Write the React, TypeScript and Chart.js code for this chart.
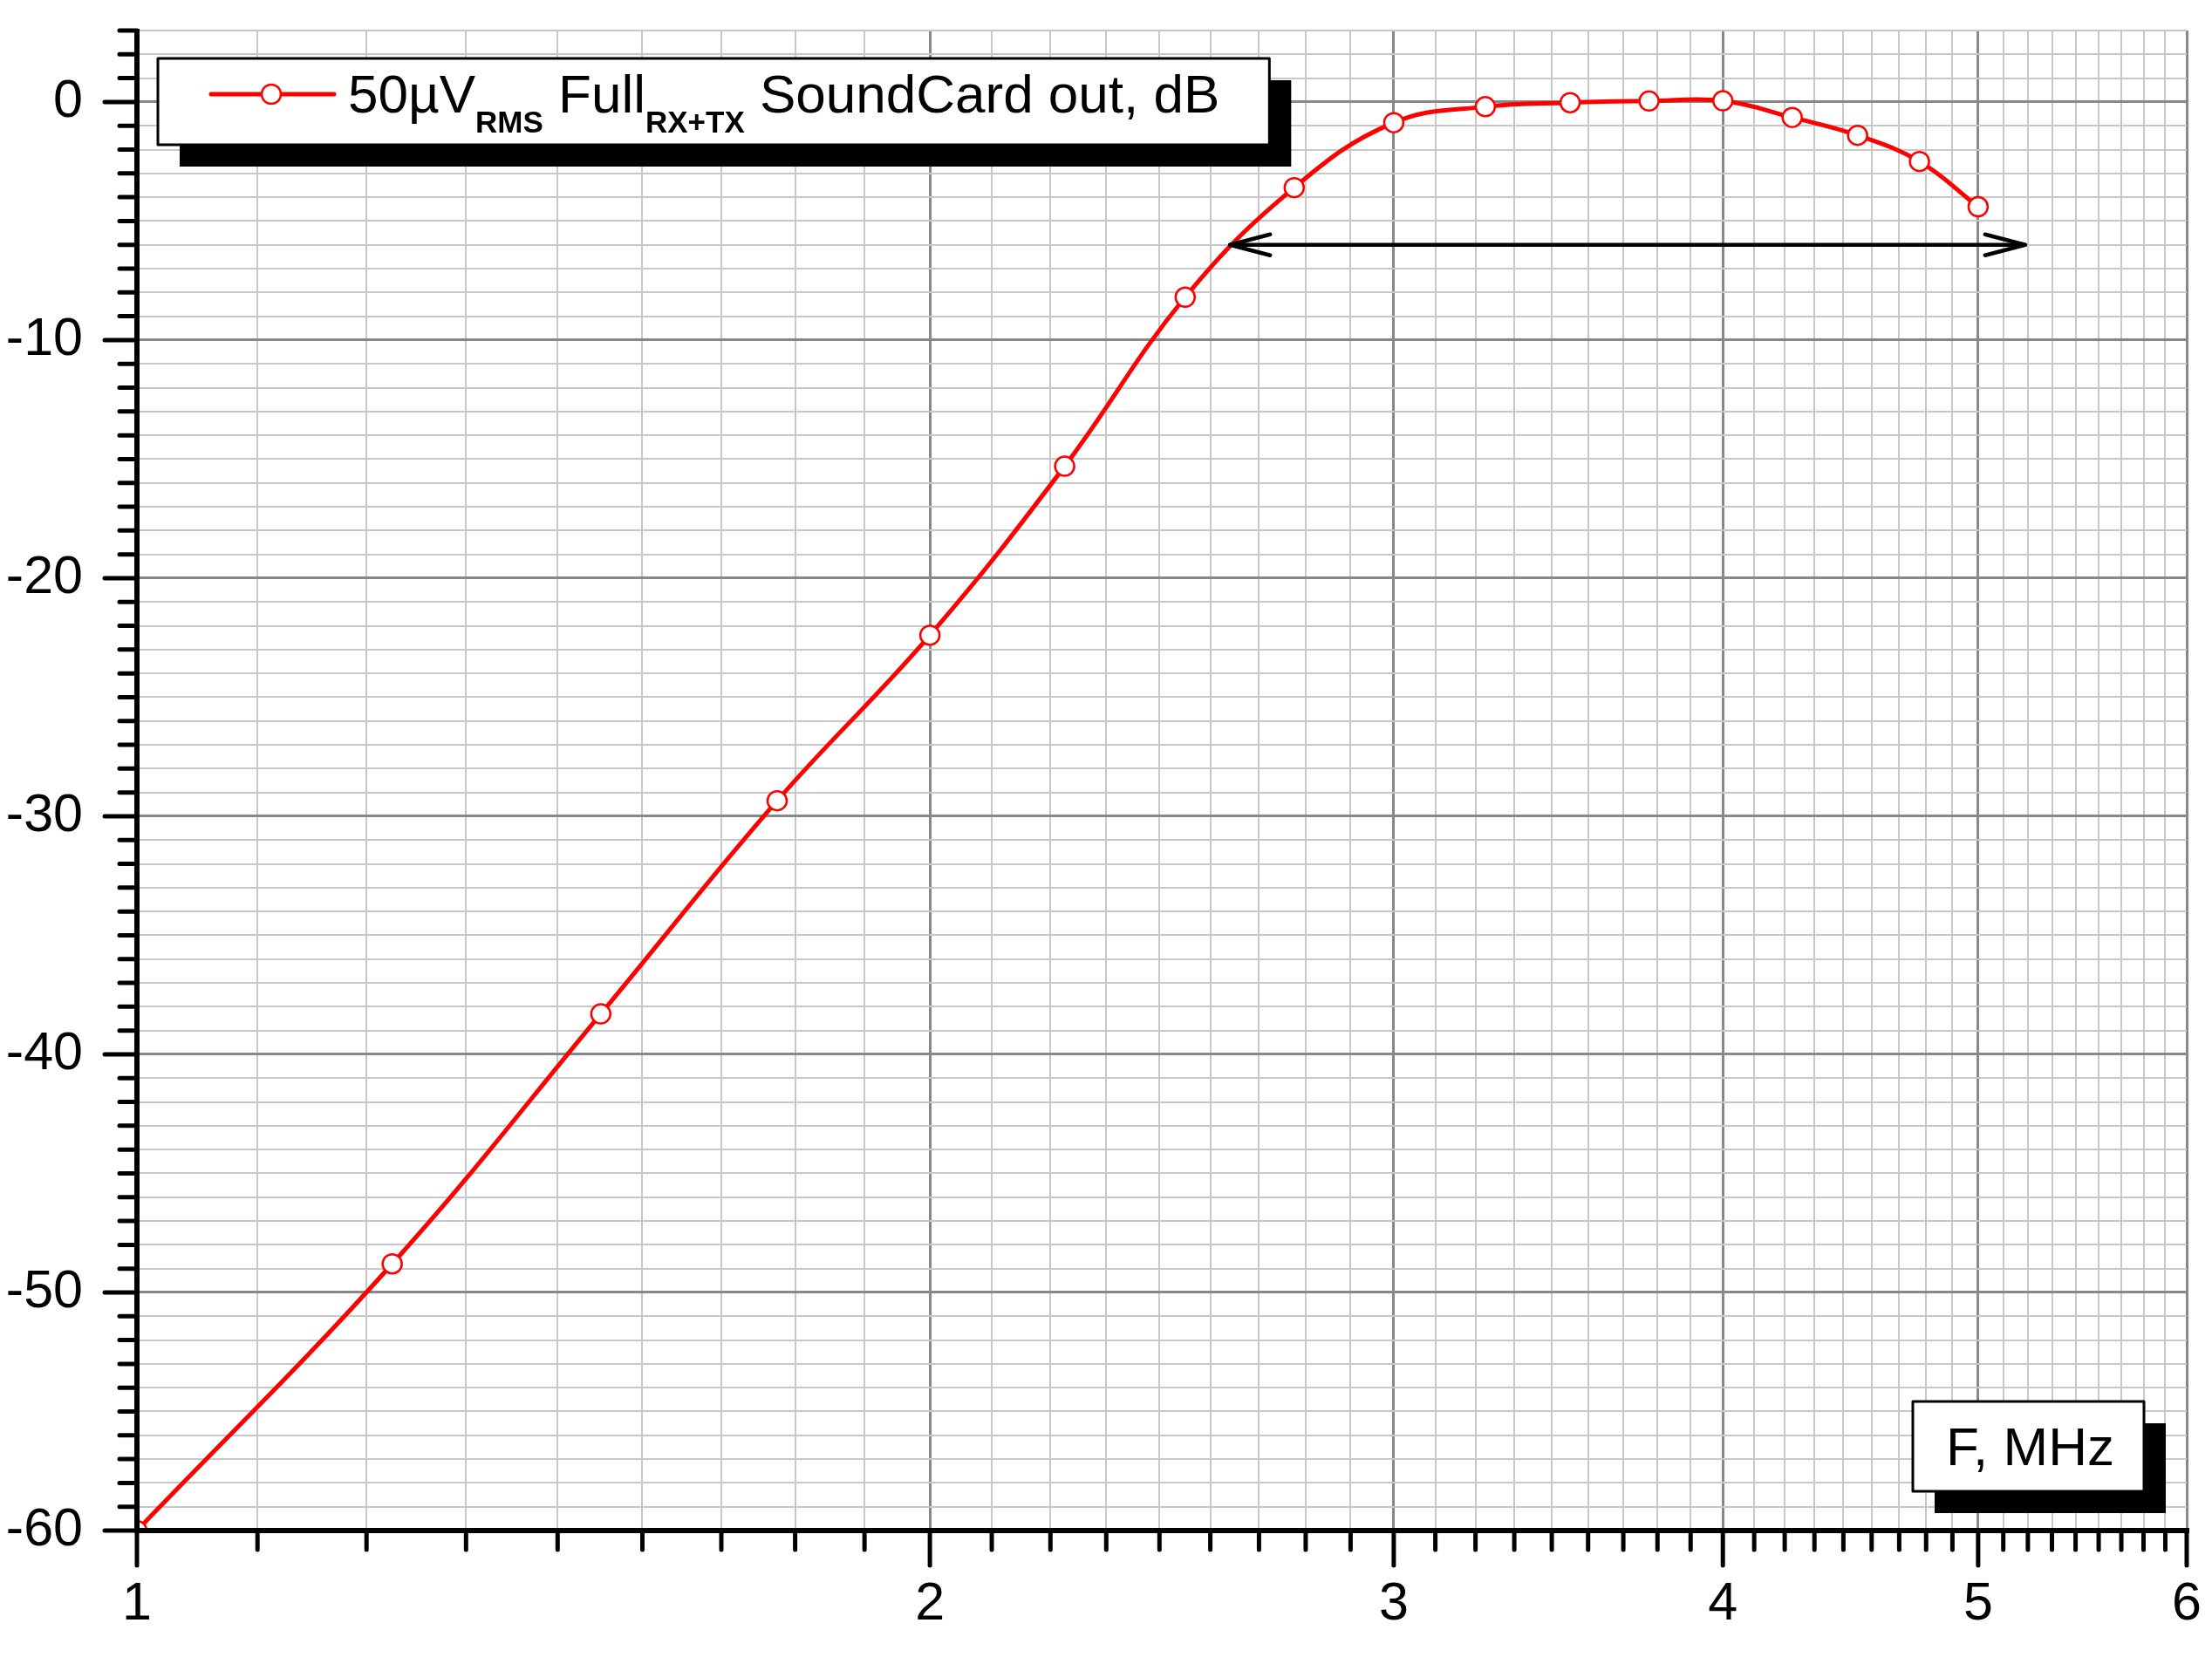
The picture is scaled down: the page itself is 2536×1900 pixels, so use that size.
import React, { useEffect, useRef } from 'react';
import { Chart, registerables } from 'chart.js';

Chart.register(...registerables);

// ---- data ----
const frequencyMHz = [1, 1.25, 1.5, 1.75, 2, 2.25, 2.5, 2.75, 3, 3.25, 3.5, 3.75, 4, 4.25, 4.5, 4.75, 5];
const levelDb = [-60, -48.8, -38.3, -29.35, -22.4, -15.3, -8.2, -3.6, -0.87, -0.2, -0.03, 0.04, 0.05, -0.65, -1.4, -2.5, -4.4];

const xMajorTicks = [1, 2, 3, 4, 5, 6];
const xMinorSubdivisions = 9;
const yMajorTicks = [0, -10, -20, -30, -40, -50, -60];
const yMin = -60;
const yMax = 3;

const bandArrowFrom = 2.6;
const bandArrowTo = 5.21;
const bandArrowLevel = -6;

const legendParts = [
  { text: '50µV', sub: false },
  { text: 'RMS', sub: true },
  { text: ' Full', sub: false },
  { text: 'RX+TX', sub: true },
  { text: ' SoundCard out, dB', sub: false },
];
const axisTitle = 'F, MHz';

// ---- derived tick lists ----
const xTickValues: number[] = [];
for (let i = 0; i < xMajorTicks.length - 1; i++) {
  const a = xMajorTicks[i];
  const b = xMajorTicks[i + 1];
  for (let k = 0; k < xMinorSubdivisions; k++) {
    xTickValues.push(Math.round((a + ((b - a) * k) / xMinorSubdivisions) * 1e9) / 1e9);
  }
}
xTickValues.push(xMajorTicks[xMajorTicks.length - 1]);

const yTickValues: number[] = [];
for (let v = yMin; v <= yMax; v++) yTickValues.push(v);

const FONT = "'Liberation Sans', Arial, sans-serif";
const RED = '#ff0000';
const MINOR_GRID = '#c8c8c8';
const MAJOR_GRID = '#888888';

const decorPlugin = {
  id: 'decor',
  afterDraw(chart: any) {
    const { ctx, chartArea: a, scales } = chart;
    const xs = scales.x;
    const ys = scales.y;
    const line = (x1: number, y1: number, x2: number, y2: number) => {
      ctx.beginPath();
      ctx.moveTo(x1, y1);
      ctx.lineTo(x2, y2);
      ctx.stroke();
    };
    ctx.save();

    // band arrow
    const ay = ys.getPixelForValue(bandArrowLevel);
    const ax1 = xs.getPixelForValue(bandArrowFrom);
    const ax2 = xs.getPixelForValue(bandArrowTo);
    ctx.strokeStyle = '#000';
    ctx.lineWidth = 4.5;
    ctx.lineCap = 'round';
    ctx.lineJoin = 'round';
    line(ax1, ay, ax2, ay);
    ctx.beginPath();
    ctx.moveTo(ax1 + 46, ay - 12);
    ctx.lineTo(ax1, ay);
    ctx.lineTo(ax1 + 46, ay + 12);
    ctx.stroke();
    ctx.beginPath();
    ctx.moveTo(ax2 - 46, ay - 12);
    ctx.lineTo(ax2, ay);
    ctx.lineTo(ax2 - 46, ay + 12);
    ctx.stroke();

    // tick marks
    ctx.lineWidth = 5;
    ctx.lineCap = 'round';
    for (const t of ys.ticks) {
      const py = ys.getPixelForValue(t.value);
      const len = yMajorTicks.includes(t.value) ? 37 : 20;
      line(a.left - len, py, a.left, py);
    }
    for (const t of xs.ticks) {
      const px = xs.getPixelForValue(t.value);
      const len = xMajorTicks.includes(t.value) ? 40 : 22;
      line(px, a.bottom, px, a.bottom + len);
    }
    // axis lines
    ctx.lineWidth = 6;
    ctx.lineCap = 'butt';
    line(a.left, a.top - 2, a.left, a.bottom + 3);
    line(a.left - 3, a.bottom, a.right + 3, a.bottom);

    // legend box
    const mainFont = `62px ${FONT}`;
    const subFont = `bold 35px ${FONT}`;
    const bx = a.left + 24;
    const by = a.top + 32;
    const bh = 99;
    const textX = bx + 218;
    let tw = 0;
    for (const p of legendParts) {
      ctx.font = p.sub ? subFont : mainFont;
      tw += ctx.measureText(p.text).width;
    }
    const bw = textX + tw + 57 - bx;
    ctx.fillStyle = '#000';
    ctx.fillRect(bx + 25, by + 25, bw, bh);
    ctx.fillStyle = '#fff';
    ctx.fillRect(bx, by, bw, bh);
    ctx.strokeStyle = '#000';
    ctx.lineWidth = 3;
    ctx.strokeRect(bx, by, bw, bh);
    // legend symbol
    const ly = by + 41;
    ctx.strokeStyle = RED;
    ctx.lineWidth = 5;
    ctx.lineCap = 'round';
    line(bx + 61, ly, bx + 202, ly);
    ctx.beginPath();
    ctx.arc(bx + 130, ly, 11, 0, Math.PI * 2);
    ctx.fillStyle = '#fff';
    ctx.fill();
    ctx.lineWidth = 2.5;
    ctx.stroke();
    // legend text
    ctx.fillStyle = '#000';
    ctx.textBaseline = 'alphabetic';
    ctx.textAlign = 'left';
    let tx = textX;
    const baseline = by + 62;
    for (const p of legendParts) {
      ctx.font = p.sub ? subFont : mainFont;
      ctx.fillText(p.text, tx, p.sub ? baseline + 23 : baseline);
      tx += ctx.measureText(p.text).width;
    }

    // axis title box
    const fw = 265;
    const fh = 103;
    const fx = a.right - 49 - fw;
    const fy = a.bottom - 45 - fh;
    ctx.fillStyle = '#000';
    ctx.fillRect(fx + 25, fy + 25, fw, fh);
    ctx.fillStyle = '#fff';
    ctx.fillRect(fx, fy, fw, fh);
    ctx.strokeStyle = '#000';
    ctx.lineWidth = 3;
    ctx.strokeRect(fx, fy, fw, fh);
    ctx.fillStyle = '#000';
    ctx.font = mainFont;
    ctx.textAlign = 'center';
    ctx.fillText(axisTitle, fx + fw / 2 + 2, fy + fh - 30);

    ctx.restore();
  },
};

const zeroPadding = (s: any) => {
  s.paddingLeft = 0;
  s.paddingRight = 0;
  s.paddingTop = 0;
  s.paddingBottom = 0;
};

export default function App() {
  const ref = useRef<HTMLCanvasElement | null>(null);

  useEffect(() => {
    document.body.style.margin = '0';
    const canvas = ref.current;
    if (!canvas) return;
    const tickFont = { family: FONT, size: 61, lineHeight: 1 };
    const chart = new Chart(canvas, {
      type: 'line',
      data: {
        datasets: [
          {
            label: 'level',
            data: frequencyMHz.map((f, i) => ({ x: f, y: levelDb[i] })),
            borderColor: RED,
            borderWidth: 5,
            tension: 0.4,
            pointRadius: 11,
            pointBorderWidth: 2.5,
            pointBackgroundColor: '#ffffff',
            pointBorderColor: RED,
            fill: false,
          },
        ],
      },
      options: {
        responsive: false,
        animation: false,
        devicePixelRatio: 1,
        layout: { padding: { left: 0, right: 29, top: 35, bottom: 0 } },
        plugins: { legend: { display: false }, tooltip: { enabled: false } },
        scales: {
          x: {
            type: 'logarithmic',
            min: xMajorTicks[0],
            max: xMajorTicks[xMajorTicks.length - 1],
            bounds: 'data',
            afterBuildTicks: (s: any) => {
              s.ticks = xTickValues.map((v) => ({ value: v }));
            },
            afterFit: (s: any) => {
              s.height = 145;
              zeroPadding(s);
            },
            border: { display: false },
            grid: {
              drawTicks: false,
              color: (c: any) => (c.tick && xMajorTicks.includes(c.tick.value) ? MAJOR_GRID : MINOR_GRID),
              lineWidth: (c: any) => (c.tick && xMajorTicks.includes(c.tick.value) ? 3 : 2),
            },
            ticks: {
              autoSkip: false,
              maxRotation: 0,
              minRotation: 0,
              padding: 55,
              color: '#000',
              font: tickFont,
              callback: (v: any) => (xMajorTicks.includes(Number(v)) ? String(v) : ''),
            },
          },
          y: {
            type: 'linear',
            min: yMin,
            max: yMax,
            afterBuildTicks: (s: any) => {
              s.ticks = yTickValues.map((v) => ({ value: v }));
            },
            afterFit: (s: any) => {
              s.width = 157;
              zeroPadding(s);
            },
            border: { display: false },
            grid: {
              drawTicks: false,
              color: (c: any) => (c.tick && yMajorTicks.includes(c.tick.value) ? MAJOR_GRID : MINOR_GRID),
              lineWidth: (c: any) => (c.tick && yMajorTicks.includes(c.tick.value) ? 3 : 2),
            },
            ticks: {
              autoSkip: false,
              padding: 62,
              color: '#000',
              font: tickFont,
              callback: (v: any) => (yMajorTicks.includes(Number(v)) ? String(v) : ''),
            },
          },
        },
      },
      plugins: [decorPlugin],
    } as any);
    return () => chart.destroy();
  }, []);

  return (
    <div style={{ width: 2536, height: 1900, background: '#fff' }}>
      <canvas ref={ref} width={2536} height={1900} style={{ width: 2536, height: 1900, display: 'block' }} />
    </div>
  );
}
